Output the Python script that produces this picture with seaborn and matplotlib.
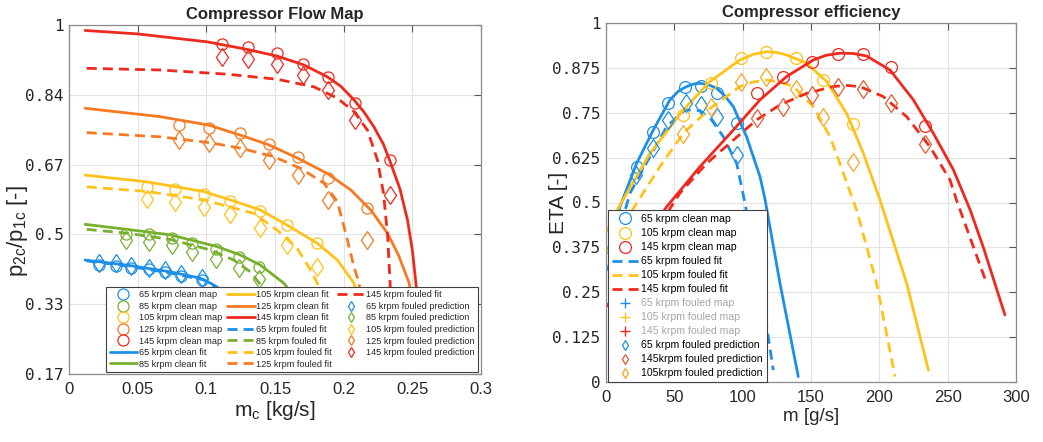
import numpy as np
import pandas as pd
import matplotlib
matplotlib.use("Agg")
import matplotlib.pyplot as plt
import seaborn as sns
from matplotlib.lines import Line2D

# ---------------- Left: compressor flow map ----------------
flow_speeds = ["65", "85", "105", "125", "145"]

# clean map (circles)
map_x_65 = [0.0221, 0.0343, 0.0453, 0.0579, 0.0696, 0.0818, 0.0969]
map_y_65 = [0.429, 0.428, 0.423, 0.420, 0.413, 0.403, 0.394]
map_x_85 = [0.0414, 0.0579, 0.0750, 0.0896, 0.1073, 0.1236, 0.1387]
map_y_85 = [0.502, 0.502, 0.494, 0.481, 0.467, 0.449, 0.425]
map_x_105 = [0.0567, 0.0769, 0.0985, 0.1170, 0.1389, 0.1589, 0.1808]
map_y_105 = [0.615, 0.609, 0.598, 0.582, 0.558, 0.524, 0.481]
map_x_125 = [0.0798, 0.1017, 0.1243, 0.1455, 0.1667, 0.1888, 0.2168]
map_y_125 = [0.762, 0.756, 0.744, 0.717, 0.685, 0.637, 0.564]
map_x_145 = [0.1114, 0.1304, 0.1516, 0.1703, 0.1888, 0.2083, 0.2338]
map_y_145 = [0.955, 0.947, 0.933, 0.907, 0.876, 0.814, 0.679]

# fouled prediction (diamonds)
pred_y_65 = [0.433, 0.433, 0.427, 0.421, 0.417, 0.408, 0.398]
pred_y_85 = [0.489, 0.485, 0.477, 0.459, 0.443, 0.421, 0.395]
pred_y_105 = [0.585, 0.580, 0.568, 0.551, 0.517, 0.477, 0.425]
pred_y_125 = [0.727, 0.720, 0.708, 0.679, 0.643, 0.584, 0.489]
pred_y_145 = [0.925, 0.918, 0.907, 0.881, 0.845, 0.774, 0.596]

# clean fit (solid)
cfit_x_65 = [0.0117, 0.0421, 0.0737, 0.0956, 0.1053, 0.1250]
cfit_y_65 = [0.441, 0.429, 0.413, 0.398, 0.382, 0.340]
cfit_x_85 = [0.0117, 0.0421, 0.0737, 0.1078, 0.1248, 0.1394, 0.1564, 0.1700]
cfit_y_85 = [0.526, 0.514, 0.501, 0.473, 0.453, 0.429, 0.386, 0.330]
cfit_x_105 = [0.0117, 0.0567, 0.0980, 0.1175, 0.1394, 0.1589, 0.1808, 0.1954, 0.2075, 0.2150]
cfit_y_105 = [0.643, 0.627, 0.604, 0.584, 0.560, 0.524, 0.481, 0.441, 0.386, 0.300]
cfit_x_125 = [0.0117, 0.0664, 0.1017, 0.1248, 0.1455, 0.1667, 0.1880, 0.2051, 0.2197, 0.2319, 0.2400, 0.2477, 0.2520]
cfit_y_125 = [0.802, 0.782, 0.762, 0.738, 0.715, 0.683, 0.647, 0.608, 0.560, 0.505, 0.452, 0.386, 0.300]
cfit_x_145 = [0.0117, 0.0494, 0.1005, 0.1297, 0.1516, 0.1710, 0.1880, 0.1980, 0.2075, 0.2150, 0.2220, 0.2290, 0.2343, 0.2410, 0.2465, 0.2500, 0.2526, 0.2560]
cfit_y_145 = [0.987, 0.979, 0.960, 0.942, 0.926, 0.905, 0.877, 0.854, 0.822, 0.792, 0.758, 0.716, 0.671, 0.610, 0.536, 0.465, 0.386, 0.280]

# fouled fit (dashed)
ffit_x_65 = [0.0129, 0.0421, 0.0737, 0.0980, 0.1150]
ffit_y_65 = [0.439, 0.427, 0.410, 0.394, 0.360]
ffit_x_85 = [0.0129, 0.0421, 0.0737, 0.1029, 0.1199, 0.1321, 0.1400]
ffit_y_85 = [0.514, 0.505, 0.490, 0.465, 0.441, 0.413, 0.380]
ffit_x_105 = [0.0129, 0.0567, 0.0980, 0.1345, 0.1516, 0.1662, 0.1759, 0.1808, 0.1850]
ffit_y_105 = [0.615, 0.604, 0.584, 0.552, 0.512, 0.469, 0.417, 0.386, 0.320]
ffit_x_125 = [0.0129, 0.0664, 0.1029, 0.1248, 0.1491, 0.1686, 0.1856, 0.1954, 0.2015, 0.2075, 0.2112, 0.2140]
ffit_y_125 = [0.744, 0.734, 0.720, 0.707, 0.687, 0.659, 0.624, 0.580, 0.505, 0.425, 0.386, 0.300]
ffit_x_145 = [0.0129, 0.0664, 0.1151, 0.1516, 0.1783, 0.1954, 0.2075, 0.2173, 0.2246, 0.2290, 0.2320, 0.2338, 0.2350]
ffit_y_145 = [0.897, 0.893, 0.883, 0.871, 0.853, 0.826, 0.794, 0.750, 0.679, 0.600, 0.500, 0.386, 0.280]

flow_xticks = [0, 0.05, 0.1, 0.15, 0.2, 0.25, 0.3]
flow_xticklabels = ["0", "0.05", "0.1", "0.15", "0.2", "0.25", "0.3"]
flow_yticklabels = ["0.17", "0.33", "0.5", "0.67", "0.84", "1"]

# ---------------- Right: compressor efficiency ----------------
eff_speeds = ["65", "105", "145"]

emap_x_65 = [22.4, 34.1, 45.6, 57.8, 69.5, 81.0, 95.6]
emap_y_65 = [0.600, 0.695, 0.776, 0.821, 0.825, 0.806, 0.722]
epred_x_65 = [22.0, 34.1, 45.6, 58.5, 69.5, 81.5, 96.1]
epred_y_65 = [0.577, 0.651, 0.730, 0.776, 0.772, 0.737, 0.632]
emap_x_105 = [56.6, 76.8, 98.5, 117.1, 138.8, 158.5, 181.0]
emap_y_105 = [0.744, 0.834, 0.903, 0.920, 0.902, 0.841, 0.718]
epred_y_105 = [0.691, 0.765, 0.837, 0.849, 0.815, 0.737, 0.614]
emap_x_145 = [110.7, 129.8, 151.0, 169.5, 188.3, 208.3, 233.4]
emap_y_145 = [0.806, 0.849, 0.892, 0.914, 0.914, 0.878, 0.713]
epred_y_145 = [0.734, 0.765, 0.799, 0.821, 0.815, 0.778, 0.663]

ecfit_x_65 = [1.0, 10.2, 22.4, 34.6, 46.8, 53.0, 59.0, 64.0, 68.8, 75.0, 81.0, 87.0, 93.2, 102.9, 112.7, 116.3, 127.3, 140.7]
ecfit_y_65 = [0.36, 0.488, 0.609, 0.702, 0.786, 0.810, 0.823, 0.830, 0.832, 0.828, 0.818, 0.797, 0.767, 0.683, 0.572, 0.510, 0.275, 0.015]
effit_x_65 = [1.0, 17.6, 32.2, 44.4, 57.8, 68.8, 77.3, 85.9, 95.6, 101.7, 112.0, 117.6, 122.4]
effit_y_65 = [0.31, 0.526, 0.628, 0.711, 0.758, 0.756, 0.730, 0.683, 0.609, 0.498, 0.280, 0.154, 0.033]
ecfit_x_105 = [0.5, 10.2, 32.2, 56.6, 76.1, 98.0, 108.0, 117.6, 125.0, 132.2, 146.8, 161.5, 176.1, 188.3, 200.5, 220.0, 235.9]
ecfit_y_105 = [0.42, 0.493, 0.637, 0.758, 0.837, 0.897, 0.913, 0.920, 0.918, 0.911, 0.888, 0.837, 0.748, 0.637, 0.507, 0.275, 0.033]
effit_x_105 = [0.5, 22.4, 39.5, 56.6, 76.1, 98.0, 108.0, 117.6, 127.0, 137.1, 151.7, 164.0, 173.7, 183.4, 198.0, 211.5]
effit_y_105 = [0.36, 0.498, 0.600, 0.693, 0.762, 0.823, 0.836, 0.841, 0.836, 0.823, 0.767, 0.683, 0.581, 0.479, 0.275, 0.015]
ecfit_x_145 = [20.0, 44.4, 68.8, 93.2, 112.7, 132.2, 151.7, 161.0, 171.2, 181.0, 190.7, 207.8, 224.9, 239.5, 254.2, 266.4, 276.1, 291.9]
ecfit_y_145 = [0.36, 0.488, 0.600, 0.702, 0.786, 0.851, 0.897, 0.910, 0.916, 0.915, 0.908, 0.869, 0.786, 0.693, 0.591, 0.480, 0.375, 0.187]
effit_x_145 = [0.5, 54.1, 73.7, 93.2, 110.2, 127.3, 146.8, 166.3, 176.0, 185.8, 202.9, 220.0, 237.1, 251.7, 256.6, 278.5]
effit_y_145 = [0.21, 0.526, 0.609, 0.674, 0.730, 0.772, 0.804, 0.823, 0.826, 0.823, 0.795, 0.739, 0.655, 0.563, 0.505, 0.275]

eff_xticks = [0, 50, 100, 150, 200, 250, 300]
eff_yticks = [0, 0.125, 0.25, 0.375, 0.5, 0.625, 0.75, 0.875, 1]
eff_yticklabels = ["0", "0.125", "0.25", "0.375", "0.5", "0.625", "0.75", "0.875", "1"]

# ---------------- styling ----------------
sns.set_theme(style="white")
plt.rcParams["font.family"] = ["Liberation Sans", "DejaVu Sans"]
plt.rcParams["mathtext.fontset"] = "custom"
plt.rcParams["mathtext.rm"] = "Liberation Sans"
plt.rcParams["mathtext.it"] = "Liberation Sans:italic"

colors = {"65": "#1E8FE6", "85": "#77B02E", "105": "#FFC21A", "125": "#F57A22", "145": "#EE2A1E"}
pred_colors_right = {"65": "#1E8FE6", "105": "#F5A623", "145": "#E65A30"}
DASH = (0, (3.6, 2.2))
LW = 2.0

fig = plt.figure(figsize=(10.43, 4.42), dpi=100)
ax1 = fig.add_axes([69 / 1043, 1 - 374 / 442, 412 / 1043, 349 / 442])
ax2 = fig.add_axes([606 / 1043, 1 - 382 / 442, 410 / 1043, 359 / 442])


def line(ax, x, y, c, ls="-"):
    sns.lineplot(x=x, y=y, ax=ax, color=c, lw=LW, linestyle=ls, sort=False,
                 estimator=None, legend=False)


def marks(ax, x, y, c, m, ms, mew=0.9):
    sns.lineplot(x=x, y=y, ax=ax, color=c, linestyle="none", marker=m, ms=ms,
                 mfc="none", mec=c, mew=mew, sort=False, estimator=None, legend=False)


G = globals()
for s in flow_speeds:
    c = colors[s]
    line(ax1, G["cfit_x_" + s], G["cfit_y_" + s], c, "-")
    line(ax1, G["ffit_x_" + s], G["ffit_y_" + s], c, DASH)
    marks(ax1, G["map_x_" + s], G["map_y_" + s], c, "o", 8.0)
    marks(ax1, G["map_x_" + s], G["pred_y_" + s], c, "d", 9.5)

for s in eff_speeds:
    c = colors[s]
    line(ax2, G["ecfit_x_" + s], G["ecfit_y_" + s], c, "-")
    line(ax2, G["effit_x_" + s], G["effit_y_" + s], c, DASH)
    marks(ax2, G["emap_x_" + s], G["emap_y_" + s], c, "o", 8.5)
marks(ax2, epred_x_65, epred_y_65, pred_colors_right["65"], "d", 9.5)
marks(ax2, emap_x_105, epred_y_105, pred_colors_right["105"], "d", 9.5)
marks(ax2, emap_x_145, epred_y_145, pred_colors_right["145"], "d", 9.5)

mono = "DejaVu Sans Mono"
for ax in (ax1, ax2):
    ax.grid(True, color="#e3e3e3", lw=0.8)
    ax.set_axisbelow(True)
    for sp in ax.spines.values():
        sp.set_color("#8a8a8a")
        sp.set_linewidth(0.9)
    ax.tick_params(direction="in", length=5, width=0.8, color="#555555",
                   top=True, right=True, labelsize=12, pad=4)
    ax.tick_params(axis="x", pad=6)

ax1.set_xlim(0, 0.3)
ax1.set_ylim(0.17, 1.0)
ax1.set_xticks(flow_xticks)
ax1.set_xticklabels(flow_xticklabels)
ax1.set_yticks(np.linspace(0.17, 1.0, 6))
ax1.set_yticklabels(flow_yticklabels, family=mono, fontsize=11.5)
ax1.set_title("Compressor Flow Map", fontsize=12, fontweight="bold", pad=4)
ax1.set_xlabel(r"m$_\mathrm{c}$ [kg/s]", fontsize=15, labelpad=1)
ax1.set_ylabel(r"p$_\mathrm{2c}$/p$_\mathrm{1c}$ [-]", fontsize=16)
ax1.yaxis.set_label_coords(-0.095, 0.41)

ax2.set_xlim(0, 300)
ax2.set_ylim(0, 1)
ax2.set_xticks(eff_xticks)
ax2.set_yticks(eff_yticks)
ax2.set_yticklabels(eff_yticklabels, family=mono, fontsize=11.5)
ax2.set_title("Compressor efficiency", fontsize=12, fontweight="bold", pad=4)
ax2.set_xlabel("m [g/s]", fontsize=13.5, labelpad=2)
ax2.set_ylabel("ETA [-]", fontsize=15)
ax2.yaxis.set_label_coords(-0.093, 0.5)

# ---------------- legends ----------------
h1, l1 = [], []
for s in flow_speeds:
    h1.append(Line2D([], [], ls="none", marker="o", ms=8, mfc="none", mec=colors[s], mew=0.9))
    l1.append(f"{s} krpm clean map")
for s in flow_speeds:
    h1.append(Line2D([], [], ls="-", lw=LW, color=colors[s]))
    l1.append(f"{s} krpm clean fit")
for s in flow_speeds:
    h1.append(Line2D([], [], ls=DASH, lw=LW, color=colors[s]))
    l1.append(f"{s} krpm fouled fit")
for s in flow_speeds:
    h1.append(Line2D([], [], ls="none", marker="d", ms=5, mfc="none", mec=colors[s], mew=0.9))
    l1.append(f"{s} krpm fouled prediction")
leg1 = ax1.legend(h1, l1, ncol=3, loc="lower right", bbox_to_anchor=(0.993, 0.006),
                  borderaxespad=0, fontsize=6.6, frameon=True, fancybox=False,
                  framealpha=1, edgecolor="#404040", handlelength=3.0,
                  handletextpad=0.15, columnspacing=0.6, labelspacing=0.28,
                  borderpad=0.35)
leg1.get_frame().set_linewidth(0.8)

h2, l2, tc = [], [], []
for s in eff_speeds:
    h2.append(Line2D([], [], ls="none", marker="o", ms=8.5, mfc="none", mec=colors[s], mew=0.9))
    l2.append(f"{s} krpm clean map"); tc.append("black")
for s in eff_speeds:
    h2.append(Line2D([], [], ls=DASH, lw=LW, color=colors[s]))
    l2.append(f"{s} krpm fouled fit"); tc.append("black")
for s in eff_speeds:
    h2.append(Line2D([], [], ls="none", marker="+", ms=7, mec=colors[s], mew=1.0))
    l2.append(f"{s} krpm fouled map"); tc.append("#a6a6a6")
h2.append(Line2D([], [], ls="none", marker="d", ms=5, mfc="none", mec=pred_colors_right["65"], mew=0.9))
l2.append("65 krpm fouled prediction"); tc.append("black")
h2.append(Line2D([], [], ls="none", marker="d", ms=5, mfc="none", mec=pred_colors_right["145"], mew=0.9))
l2.append("145krpm fouled prediction"); tc.append("black")
h2.append(Line2D([], [], ls="none", marker="d", ms=5, mfc="none", mec=pred_colors_right["105"], mew=0.9))
l2.append("105krpm fouled prediction"); tc.append("black")
leg2 = ax2.legend(h2, l2, loc="lower left", bbox_to_anchor=(0.005, 0.0),
                  borderaxespad=0, fontsize=7.6, frameon=True, fancybox=False,
                  framealpha=1, edgecolor="#404040", handlelength=2.6,
                  handletextpad=0.2, labelspacing=0.38, borderpad=0.35)
leg2.get_frame().set_linewidth(0.8)
for t, c in zip(leg2.get_texts(), tc):
    t.set_color(c)

fig.savefig("out.png", dpi=100)
